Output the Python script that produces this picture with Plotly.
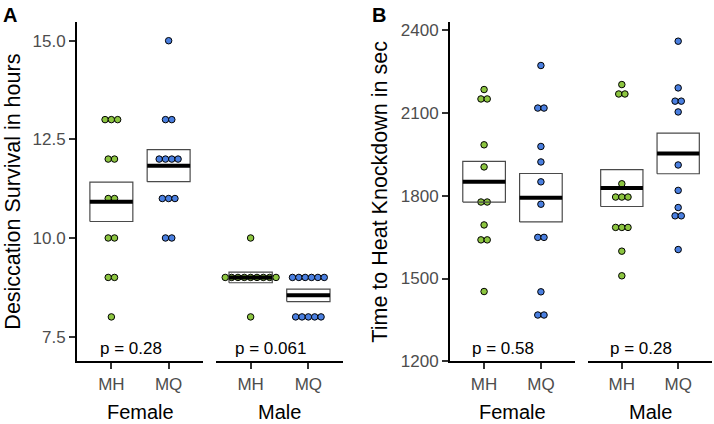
import numpy as np
import plotly.graph_objects as go

# ---------------- data ----------------
groups = ["MH", "MQ"]
sexes = ["Female", "Male"]
group_colors = {"MH": "#8CC540", "MQ": "#4A7FE0"}

# Panel A: desiccation survival (hours)
desic_female_MH = [13, 13, 13, 12, 12, 11, 11, 10, 10, 9, 9, 8]
desic_female_MQ = [15, 13, 13, 12, 12, 12, 12, 11, 11, 11, 10, 10]
desic_male_MH = [10, 9, 9, 9, 9, 9, 9, 9, 9, 9, 8]
desic_male_MQ = [9, 9, 9, 9, 9, 9, 8, 8, 8, 8, 8]
desic_pvals = ["p = 0.28", "p = 0.061"]
desic_ticks = [7.5, 10.0, 12.5, 15.0]

# Panel B: time to heat knockdown (sec)
heat_female_MH = [2184, 2150, 2150, 1984, 1904, 1777, 1777, 1694, 1640, 1640, 1453]
heat_female_MQ = [2271, 2117, 2117, 1978, 1922, 1850, 1769, 1649, 1649, 1452, 1368, 1368]
heat_male_MH = [2202, 2168, 2168, 1843, 1795, 1795, 1795, 1685, 1685, 1685, 1599, 1510]
heat_male_MQ = [2359, 2190, 2142, 2142, 2103, 1911, 1819, 1757, 1727, 1727, 1605]
heat_pvals = ["p = 0.58", "p = 0.28"]
heat_ticks = [1200, 1500, 1800, 2100, 2400]

# ---------------- layout constants ----------------
W, H = 714, 424          # target picture size (positions below are in these pixels)
FIG_H = 432              # figure height
FONT = "Liberation Sans, Arial, Helvetica, sans-serif"
TICK_GREY = "#4D4D4D"
PITCH = 0.11         # horizontal spacing of stacked dots (category units)
HALF_BOX = 0.375     # half width of mean +/- SE box

fig = go.Figure()


def stacked_x(center, values):
    vals = np.asarray(values, dtype=float)
    xs = np.zeros_like(vals)
    for v in np.unique(vals):
        idx = np.where(vals == v)[0]
        k = len(idx)
        xs[idx] = center + (np.arange(k) - (k - 1) / 2) * PITCH
    return xs


def add_group(values, center, color, xa, ya):
    vals = np.asarray(values, dtype=float)
    fig.add_trace(go.Scatter(
        x=stacked_x(center, vals), y=vals, mode="markers",
        marker=dict(size=6.5, color=color, line=dict(color="black", width=1)),
        xaxis=xa, yaxis=ya, hoverinfo="y", showlegend=False))
    m = vals.mean()
    se = vals.std(ddof=1) / np.sqrt(len(vals))
    fig.add_trace(go.Scatter(
        x=[center - HALF_BOX, center + HALF_BOX, center + HALF_BOX, center - HALF_BOX, center - HALF_BOX],
        y=[m - se, m - se, m + se, m + se, m - se], mode="lines",
        line=dict(color="#4a4a4a", width=1.2), xaxis=xa, yaxis=ya,
        hoverinfo="skip", showlegend=False))
    fig.add_trace(go.Scatter(
        x=[center - HALF_BOX, center + HALF_BOX], y=[m, m], mode="lines",
        line=dict(color="black", width=4), xaxis=xa, yaxis=ya,
        hoverinfo="skip", showlegend=False))


panels = [
    ("x", "y", [desic_female_MH, desic_female_MQ]),
    ("x2", "y", [desic_male_MH, desic_male_MQ]),
    ("x3", "y2", [heat_female_MH, heat_female_MQ]),
    ("x4", "y2", [heat_male_MH, heat_male_MQ]),
]
for xa, ya, data in panels:
    for i, g in enumerate(groups):
        add_group(data[i], i, group_colors[g], xa, ya)

# ---------------- axes ----------------
px_x = lambda p: p / W
px_y = lambda p: (H - p) / H

x_domains = [
    [px_x(77), px_x(203)],
    [px_x(216), px_x(343)],
    [px_x(450), px_x(575)],
    [px_x(588), px_x(712)],
]
y_domain = [px_y(363), px_y(21)]

common_x = dict(range=[-0.6, 1.6], tickvals=[0, 1], ticktext=groups,
                showline=True, linecolor="black", linewidth=2,
                ticks="outside", ticklen=6, tickwidth=1.5, tickcolor="#333333",
                tickfont=dict(family=FONT, size=17, color=TICK_GREY),
                showgrid=False, zeroline=False, fixedrange=True)
common_y = dict(showline=True, linecolor="black", linewidth=2,
                ticks="outside", ticklen=6, tickwidth=1.5, tickcolor="#333333",
                tickfont=dict(family=FONT, size=17, color=TICK_GREY),
                showgrid=False, zeroline=False, fixedrange=True)

fig.update_layout(
    xaxis=dict(domain=x_domains[0], anchor="y", **common_x),
    xaxis2=dict(domain=x_domains[1], anchor="y", **common_x),
    xaxis3=dict(domain=x_domains[2], anchor="y2", **common_x),
    xaxis4=dict(domain=x_domains[3], anchor="y2", **common_x),
    yaxis=dict(domain=y_domain, anchor="x", range=[6.871, 15.478],
               tickvals=desic_ticks, ticktext=[f"{t:.1f}" for t in desic_ticks], **common_y),
    yaxis2=dict(domain=y_domain, anchor="x3", range=[1200, 2429],
                tickvals=heat_ticks, ticktext=[str(t) for t in heat_ticks], **common_y),
)

ann = []
# p-value labels
for xa, lab in zip(["x", "x2"], desic_pvals):
    ann.append(dict(x=0.34, y=7.2, xref=xa, yref="y", text=lab, showarrow=False,
                    xanchor="center", yanchor="middle",
                    font=dict(family=FONT, size=17, color="black")))
for xa, lab in zip(["x3", "x4"], heat_pvals):
    ann.append(dict(x=0.34, y=1247, xref=xa, yref="y2", text=lab, showarrow=False,
                    xanchor="center", yanchor="middle",
                    font=dict(family=FONT, size=17, color="black")))
# facet (sex) labels under each panel
for xa, s in zip(["x", "x2", "x3", "x4"], sexes * 2):
    ann.append(dict(x=0.5, y=px_y(414), xref=f"{xa} domain", yref="paper", text=s,
                    showarrow=False, xanchor="center", yanchor="middle",
                    font=dict(family=FONT, size=20, color="black")))
# y-axis titles
ann.append(dict(x=px_x(13), y=px_y(192), xref="paper", yref="paper",
                text="Desiccation Survival in hours", textangle=-90, showarrow=False,
                xanchor="center", yanchor="middle",
                font=dict(family=FONT, size=21.5, color="black")))
ann.append(dict(x=px_x(380), y=px_y(192), xref="paper", yref="paper",
                text="Time to Heat Knockdown in sec", textangle=-90, showarrow=False,
                xanchor="center", yanchor="middle",
                font=dict(family=FONT, size=21.5, color="black")))
# panel letters
ann.append(dict(x=px_x(1), y=px_y(14), xref="paper", yref="paper", text="<b>A</b>",
                showarrow=False, xanchor="left", yanchor="middle",
                font=dict(family=FONT, size=20, color="black")))
ann.append(dict(x=px_x(370), y=px_y(14), xref="paper", yref="paper", text="<b>B</b>",
                showarrow=False, xanchor="left", yanchor="middle",
                font=dict(family=FONT, size=20, color="black")))

fig.update_layout(
    width=W, height=FIG_H, margin=dict(l=0, r=0, t=0, b=0),
    paper_bgcolor="white", plot_bgcolor="white",
    showlegend=False, annotations=ann,
    font=dict(family=FONT),
)

page_fix = (
    "document.documentElement.style.margin='0';document.documentElement.style.padding='0';"
    "document.body.style.margin='0';document.body.style.padding='0';"
)
fig.write_html("out.html", config={"displayModeBar": False}, post_script=page_fix)
